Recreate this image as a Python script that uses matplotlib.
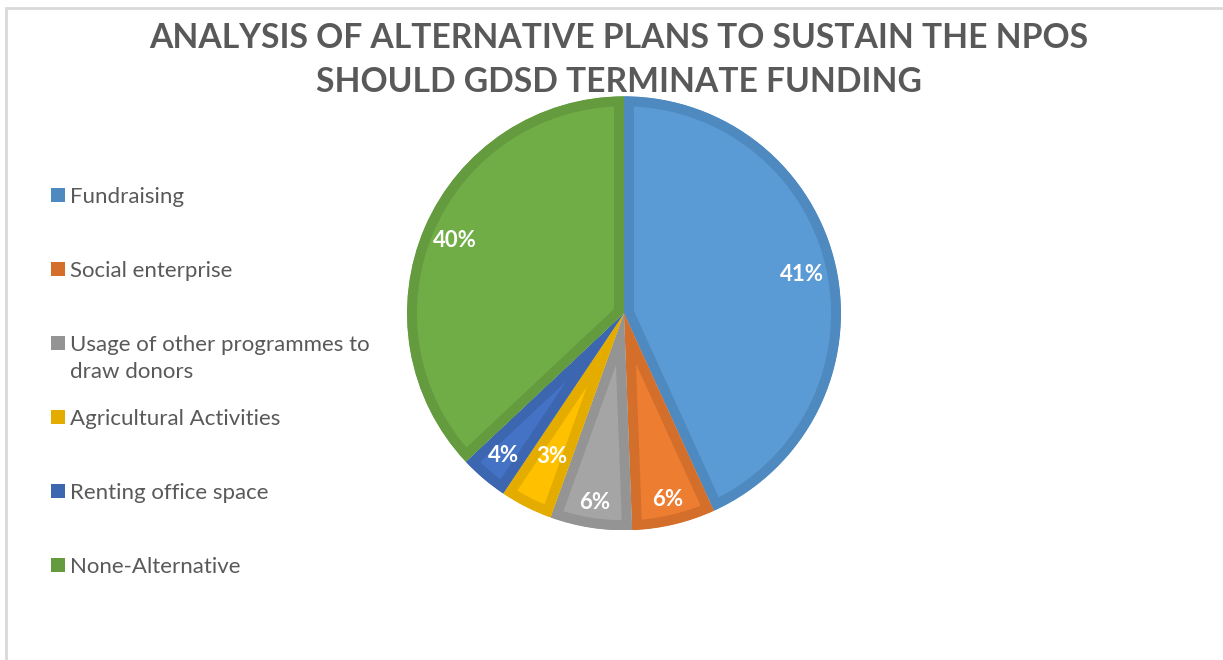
import numpy as np
import matplotlib.pyplot as plt
from matplotlib.patches import Rectangle

categories = ["Fundraising", "Social enterprise", "Usage of other programmes to\ndraw donors",
              "Agricultural Activities", "Renting office space", "None-Alternative"]
shares = [43.2, 6.2, 6.1, 3.9, 3.6, 37.0]
pct_labels = ["41%", "6%", "6%", "3%", "4%", "40%"]

fills = ["#5B9BD5", "#ED7D31", "#A5A5A5", "#FFC000", "#4472C4", "#70AD47"]
edges = ["#4E89C0", "#D46E2B", "#949494", "#E5AC00", "#3C66B0", "#649B3F"]
label_dist = [0.84, 0.88, 0.88, 0.74, 0.86, 0.85]

W, H = 1223, 660
plt.rcParams['font.family'] = ['Lato', 'DejaVu Sans']
fig = plt.figure(figsize=(W / 100, H / 100), dpi=100)

# chart frame (light gray, runs off right/bottom edge)
fig.add_artist(Rectangle((6 / W, -0.1), 2, 1.1 - 8 / H, transform=fig.transFigure,
                         fill=False, edgecolor="#D9D9D9", lw=2))

cx, cy, R = 624, 313.3, 217
ax = fig.add_axes([(cx - R) / W, (H - cy - R) / H, 2 * R / W, 2 * R / H])
wedges, _ = ax.pie(shares, colors=fills, startangle=90, counterclock=False,
                   wedgeprops=dict(linewidth=14.4))
for w, ec in zip(wedges, edges):
    w.set_edgecolor(ec)
    w.set_clip_on(True)
    w.set_clip_path(w)  # keeps only the inner half of the edge -> inner border

for w, lab, d in zip(wedges, pct_labels, label_dist):
    th = np.deg2rad((w.theta1 + w.theta2) / 2)
    ax.text(d * np.cos(th), d * np.sin(th), lab, color="white", fontsize=16,
            fontweight="bold", ha="center", va="center")
ax.set_xlim(-1, 1)
ax.set_ylim(-1, 1)
ax.axis("off")

fig.text(619 / W, 1 - 60 / H, "ANALYSIS OF ALTERNATIVE PLANS TO SUSTAIN THE NPOS\nSHOULD GDSD TERMINATE FUNDING",
         ha="center", va="center", fontsize=24.2, fontweight="bold", color="#595959", linespacing=1.45)

# legend on the left
for i, (name, ec) in enumerate(zip(categories, edges)):
    yc = 195 + i * 74
    fig.add_artist(Rectangle((51 / W, 1 - (yc + 7) / H), 14 / W, 14 / H,
                             transform=fig.transFigure, facecolor=ec, edgecolor="none"))
    for k, line in enumerate(name.split("\n")):
        fig.text(70 / W, 1 - (yc + 8 + k * 27) / H, line, fontsize=16, color="#595959",
                 ha="left", va="baseline")

fig.savefig("out.png", dpi=100)
